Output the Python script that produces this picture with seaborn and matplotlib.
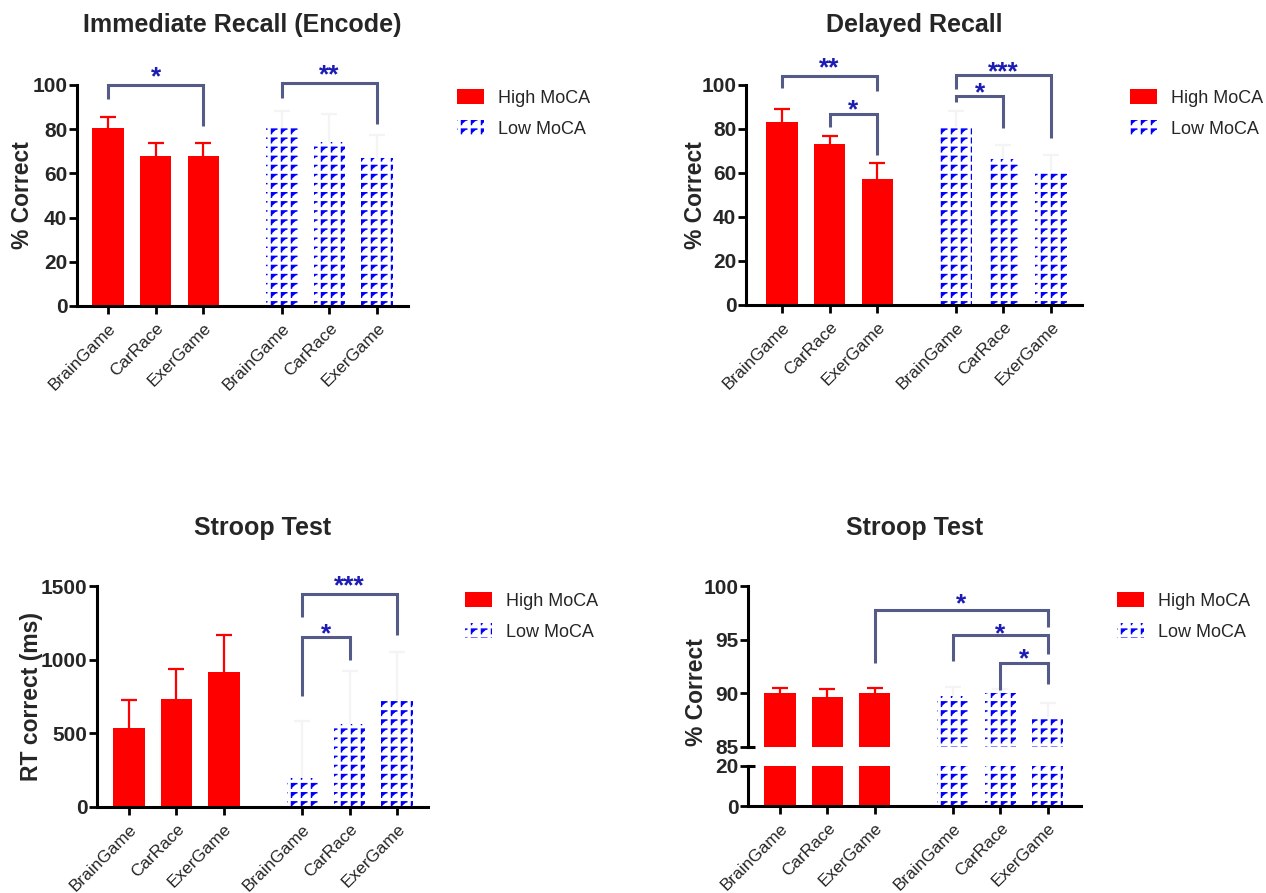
import numpy as np
import pandas as pd
import matplotlib
matplotlib.use("Agg")
import matplotlib.pyplot as plt
import matplotlib.patches as mpatches
import matplotlib.hatch as mhatch
from matplotlib.path import Path
import seaborn as sns
import warnings

warnings.filterwarnings("ignore")

# ---------------- data ----------------
games = ["BrainGame", "CarRace", "ExerGame"]
groups = ["High MoCA", "Low MoCA"]

imm_high = [80.4, 68.0, 67.7]
imm_high_err = [5.1, 5.9, 5.9]
imm_low = [80.4, 74.0, 66.8]
imm_low_err = [8.0, 12.7, 10.6]

del_high = [83.0, 73.2, 57.3]
del_high_err = [6.0, 3.8, 7.2]
del_low = [80.8, 66.2, 61.0]
del_low_err = [7.2, 6.5, 7.0]

rt_high = [535, 732, 919]
rt_high_err = [192, 205, 251]
rt_low = [197, 563, 727]
rt_low_err = [390, 361, 328]

acc_high = [90.04, 89.67, 90.04]
acc_high_err = [0.41, 0.68, 0.41]
acc_low = [89.7, 90.0, 87.75]
acc_low_err = [0.9, 0.4, 1.3]

# significance brackets: (left bar, right bar, left leg end, bar height, right leg end, label, star centre)
imm_sig = [(0, 2, 93.7, 100.1, 81.4, "*", 106.8),
           (3, 5, 94.0, 100.8, 82.4, "**", 107.6)]
del_sig = [(0, 2, 98.5, 104.0, 97.4, "**", 111.0),
           (1, 2, 81.0, 86.7, 68.0, "*", 92.0),
           (3, 5, 98.0, 104.5, 76.0, "***", 109.0),
           (3, 4, 92.4, 95.0, 80.6, "*", 99.5)]
rt_sig = [(3, 5, 1288, 1443, 1168, "***", 1552),
          (3, 4, 755, 1152, 998, "*", 1224)]
acc_sig = [(2, 5, 92.8, 97.8, 96.2, "*", 99.0),
           (3, 5, 93.0, 95.4, 93.65, "*", 96.2),
           (4, 5, 90.3, 92.8, 90.85, "*", 93.9)]

# ---------------- custom "F" hatch (GraphPad-like pattern) ----------------
class GammaHatch(mhatch.HatchPatternBase):
    def __init__(self, hatch, density):
        n = hatch.count("F")
        self.nx = 10 * n
        self.ny = 11 * n
        self.num_vertices = self.nx * self.ny * 3 if n else 0

    def set_vertices_and_codes(self, vertices, codes):
        cw, ch = 1.0 / self.nx, 1.0 / self.ny
        xs, ys = np.meshgrid(np.arange(self.nx) * cw, np.arange(self.ny) * ch)
        xs, ys = xs.ravel(), ys.ravel()
        k = len(xs)
        v = np.empty((k, 3, 2))
        v[:, 0, 0] = xs + 0.15 * cw
        v[:, 0, 1] = ys + 0.30 * ch
        v[:, 1, 0] = xs + 0.15 * cw
        v[:, 1, 1] = ys + 0.80 * ch
        v[:, 2, 0] = xs + 0.68 * cw
        v[:, 2, 1] = ys + 0.80 * ch
        vertices[:] = v.reshape(-1, 2)
        c = np.empty((k, 3), dtype=codes.dtype)
        c[:, 0] = Path.MOVETO
        c[:, 1:] = Path.LINETO
        codes[:] = c.ravel()


mhatch._hatch_types.append(GammaHatch)

# ---------------- style ----------------
sns.set_theme(style="ticks")
plt.rcParams["font.family"] = ["Liberation Sans", "DejaVu Sans"]
plt.rcParams["hatch.linewidth"] = 1.05
plt.rcParams["hatch.color"] = "blue"
plt.rcParams["axes.linewidth"] = 2.2
plt.rcParams["axes.edgecolor"] = "black"

RED = "#ff0000"
BLUE = "#0000ff"
BRACKET = "#555b88"
STAR = "#1c1cb4"
FAINT = "#f4f4f4"

GAP = 3.65
positions = [i for i in range(3)] + [GAP + i for i in range(3)]

W, H = 1266, 893
fig = plt.figure(figsize=(W / 100, H / 100), dpi=100)


def px_axes(left, top, right, bottom):
    return fig.add_axes([left / W, 1 - bottom / H, (right - left) / W, (bottom - top) / H])


def make_df(high, low):
    return pd.DataFrame({
        "pos": positions,
        "value": list(high) + list(low),
        "group": [groups[0]] * 3 + [groups[1]] * 3,
    })


def bars(ax, high, low):
    df = make_df(high, low)
    sns.barplot(data=df, x="pos", y="value", hue="group", hue_order=groups,
                palette={groups[0]: RED, groups[1]: "white"}, native_scale=True,
                width=0.66, errorbar=None, legend=False, dodge=False, ax=ax)
    for p in ax.patches:
        fc = p.get_facecolor()
        if fc[1] > 0.5:  # white -> low MoCA
            p.set_facecolor("white")
            p.set_edgecolor(BLUE)
            p.set_hatch("F")
            p.set_linewidth(0)
        else:
            p.set_facecolor(RED)
            p.set_edgecolor(RED)
            p.set_linewidth(0)


def one_errbar(ax, x, y, e, color):
    _, caps, _ = ax.errorbar(x, y, yerr=[np.zeros(len(e)), e], fmt="none",
                             ecolor=color, elinewidth=1.6, capsize=6, capthick=1.6, zorder=3)
    if len(caps) > 1:
        caps[0].set_visible(False)  # no cap at the bar top


def errbars(ax, high, high_err, low, low_err):
    one_errbar(ax, positions[:3], high, high_err, RED)
    one_errbar(ax, positions[3:], low, low_err, FAINT)


def brackets(ax, sig):
    for i, j, yl, yb, yr, lab, ys in sig:
        xl, xr = positions[i], positions[j]
        ax.plot([xl, xl, xr, xr], [yl, yb, yb, yr], color=BRACKET, lw=2.2,
                clip_on=False, solid_joinstyle="miter", solid_capstyle="butt", zorder=4)
        ax.annotate(lab, xy=((xl + xr) / 2, ys), xytext=(0, -10.5), textcoords="offset points",
                    ha="center", va="baseline", fontsize=19, fontweight="bold",
                    color=STAR, annotation_clip=False)


def style_y(ax, ticks, ylim):
    ax.set_ylim(*ylim)
    ax.set_yticks(ticks)
    ax.set_yticklabels([str(t) for t in ticks], fontsize=15, fontweight="bold")
    ax.tick_params(axis="y", length=6, width=2.0, pad=1, color="black")
    ax.spines["top"].set_visible(False)
    ax.spines["right"].set_visible(False)


def style_x(ax, xlim):
    ax.set_xlim(*xlim)
    ax.set_xticks(positions)
    ax.set_xticklabels(games * 2, rotation=45, ha="right", va="top",
                       rotation_mode="anchor", fontsize=12.4)
    ax.tick_params(axis="x", length=6, width=2.0, pad=4.5, color="black")
    ax.set_xlabel("")


def legend(ax, x, y):
    handles = [mpatches.Patch(facecolor=RED, edgecolor=RED, linewidth=0),
               mpatches.Patch(facecolor="white", edgecolor=BLUE, hatch="F", linewidth=0)]
    ax.legend(handles, groups, loc="upper left", bbox_to_anchor=(x / W, 1 - y / H),
              bbox_transform=fig.transFigure, frameon=False, fontsize=13,
              handlelength=1.5, handleheight=0.9, handletextpad=0.75,
              labelspacing=0.75, borderpad=0, borderaxespad=0)


def ylabel(ax, text, xa, ya=0.5):
    ax.set_ylabel(text, fontsize=16.5, fontweight="bold", va="center")
    ax.yaxis.set_label_coords(xa, ya)


# ---------------- panel 1: Immediate Recall ----------------
ax1 = px_axes(77, 85, 408, 306)
bars(ax1, imm_high, imm_low)
errbars(ax1, imm_high, imm_high_err, imm_low, imm_low_err)
style_y(ax1, [0, 20, 40, 60, 80, 100], (0, 100))
style_x(ax1, (-0.651, 6.30))
brackets(ax1, imm_sig)
ax1.set_title("Immediate Recall (Encode)", fontsize=18, fontweight="bold", pad=38)
ylabel(ax1, "% Correct", -0.165)
legend(ax1, 457, 89)

# ---------------- panel 2: Delayed Recall ----------------
ax2 = px_axes(746, 85, 1082, 305)
bars(ax2, del_high, del_low)
errbars(ax2, del_high, del_high_err, del_low, del_low_err)
style_y(ax2, [0, 20, 40, 60, 80, 100], (0, 100))
style_x(ax2, (-0.756, 6.30))
brackets(ax2, del_sig)
ax2.set_title("Delayed Recall", fontsize=18, fontweight="bold", pad=38)
ylabel(ax2, "% Correct", -0.149)
legend(ax2, 1130, 89)

# ---------------- panel 3: Stroop RT ----------------
ax3 = px_axes(97, 586, 428, 807)
bars(ax3, rt_high, rt_low)
errbars(ax3, rt_high, rt_high_err, rt_low, rt_low_err)
style_y(ax3, [0, 500, 1000, 1500], (0, 1500))
style_x(ax3, (-0.675, 6.30))
brackets(ax3, rt_sig)
ax3.set_title("Stroop Test", fontsize=18, fontweight="bold", pad=37)
ylabel(ax3, "RT correct (ms)", -0.199)
legend(ax3, 465, 592)

# ---------------- panel 4: Stroop accuracy (broken axis) ----------------
ax4t = px_axes(748, 586, 1081, 746.7)
ax4b = px_axes(748, 765.7, 1081, 806)
for a in (ax4t, ax4b):
    bars(a, acc_high, acc_low)
errbars(ax4t, acc_high, acc_high_err, acc_low, acc_low_err)
style_y(ax4t, [85, 90, 95, 100], (85, 100))
style_y(ax4b, [0, 20], (0, 20))
style_x(ax4b, (-0.675, 6.35))
ax4t.set_xlim(-0.675, 6.35)
ax4t.spines["bottom"].set_visible(False)
ax4t.tick_params(axis="x", bottom=False, labelbottom=False)
ax4t.set_xlabel("")
ax4t.set_ylabel("")
ax4b.set_ylabel("")
# axis-break marks
ax4t.plot([-0.005, 0.02], [0, 0], transform=ax4t.transAxes, color="black", lw=2.2,
          clip_on=False, solid_capstyle="butt")
ax4b.plot([-0.005, 0.02], [1, 1], transform=ax4b.transAxes, color="black", lw=2.2,
          clip_on=False, solid_capstyle="butt")
brackets(ax4t, acc_sig)
ax4t.set_title("Stroop Test", fontsize=18, fontweight="bold", pad=37)
ylabel(ax4t, "% Correct", -0.156, 0.34)
legend(ax4t, 1117, 592)

fig.savefig("out.png", dpi=100)
